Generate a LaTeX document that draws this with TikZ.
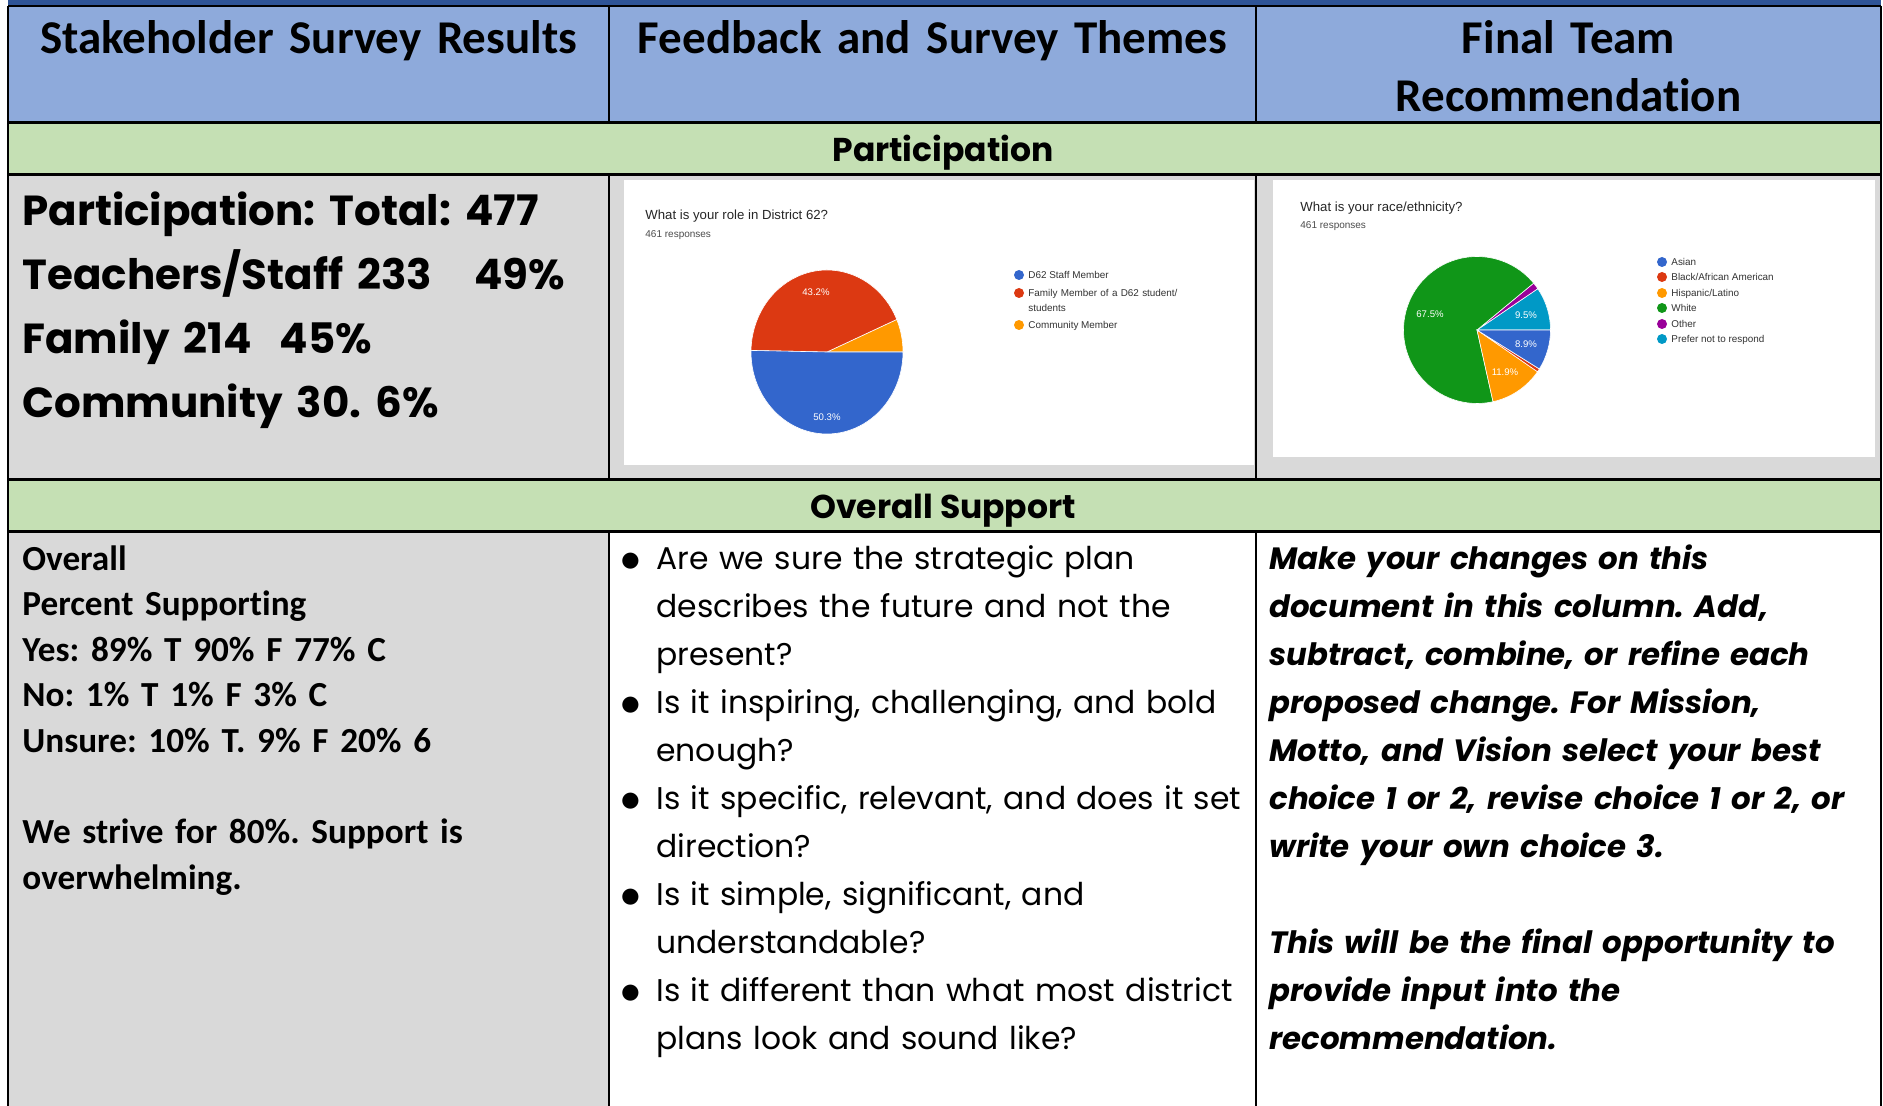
\documentclass[tikz,border=0pt]{standalone}
\usepackage{fontspec}
\setmainfont[Ligatures=NoCommon]{Carlito}
\newfontfamily\pop{Poppins}
\newfontfamily\gchart{Liberation Sans}
\definecolor{topblue}{HTML}{2F5496}
\definecolor{hdrblue}{HTML}{8EAADB}
\definecolor{bandgreen}{HTML}{C5E0B4}
\definecolor{cellgray}{HTML}{D9D9D9}
\definecolor{gblue}{HTML}{3366CC}
\definecolor{gred}{HTML}{DC3912}
\definecolor{gorange}{HTML}{FF9900}
\definecolor{ggreen}{HTML}{109618}
\definecolor{gpurple}{HTML}{990099}
\definecolor{gcyan}{HTML}{0099C6}
\newcommand{\themebul}{\makebox[16.5pt][l]{\hspace*{-1.5pt}\raisebox{-1.2pt}{\fontsize{22}{24}\selectfont$\bullet$}}}
\newcommand{\themeind}{\hspace*{16.5pt}}
\frenchspacing

\begin{document}
\begin{tikzpicture}[x=0.5pt,y=-0.5pt,
		gridline/.style={line width=1pt},
		bandline/.style={line width=1.5pt},
		headtext/.style={anchor=base,inner sep=0pt,text width=295pt,align=center,font=\fontsize{23.5}{29}\selectfont\bfseries},
		bandtext/.style={anchor=base,inner sep=0pt,font=\pop\fontsize{16.5}{20}\selectfont\bfseries},
		celltext/.style={anchor=base west,inner sep=0pt,text width=290pt,align=left},
		charttitle/.style={anchor=base west,inner sep=0pt,text=black!85,font=\gchart\fontsize{6.6}{8}\selectfont},
		chartnote/.style={anchor=base west,inner sep=0pt,text=black!70,font=\gchart\fontsize{5}{6}\selectfont},
		legendtext/.style={anchor=base west,inner sep=0pt,text=black!80,font=\gchart\fontsize{4.95}{7.5}\selectfont},
		slicelabel/.style={inner sep=0pt,text=white,font=\gchart\fontsize{4.8}{6}\selectfont},
		slice/.style={draw=white,line width=0.3pt}]
	\useasboundingbox (0,0) rectangle (1883,1106);
	% cells
	\fill[topblue] (8,0) rectangle (1881,6);
	\fill[hdrblue] (8,6) rectangle (1881,123);
	\fill[bandgreen] (8,123) rectangle (1881,175);
	\fill[cellgray] (8,175) rectangle (1881,480);
	\fill[bandgreen] (8,480) rectangle (1881,531);
	\fill[cellgray] (8,531) rectangle (609,1106);
	\fill[white] (609,531) rectangle (1881,1106);
	\fill[white] (624,180) rectangle (1254,465);
	\fill[white] (1273,180) rectangle (1875,457);
	\draw[gridline]
		(8,6) -- (1881,6)
		(8,6) -- (8,1106) (1881,6) -- (1881,1106)
		(609,6) -- (609,123) (1256,6) -- (1256,123)
		(609,175) -- (609,480) (1256,175) -- (1256,480)
		(609,531) -- (609,1106) (1256,531) -- (1256,1106);
	\draw[bandline]
		(8,123) -- (1881,123) (8,175) -- (1881,175)
		(8,480) -- (1881,480) (8,531) -- (1881,531);
	% headings
	\node[headtext] (hstake) at (308.5,54) {Stakeholder Survey Results};
	\node[headtext] (hthemes) at (932.5,54) {Feedback and Survey Themes};
	\node[headtext] (hfinal) at (1568.5,54) {Final Team\\Recommendation};
	\node[bandtext] (bpart) at (943,162) {Participation};
	\node[bandtext] (bsupp) at (943,518) {Overall Support};
	% participation
	\node[celltext,font=\pop\fontsize{21}{32}\selectfont\bfseries] (parttext) at (22,226)
		{Participation: Total: 477\\Teachers/Staff 233\ \ \ 49\%\\Family 214\ \ 45\%\\Community 30. 6\%};
	% role chart
	\node[charttitle] (roletitle) at (645,220) {What is your role in District 62?};
	\node[chartnote] (roleresp) at (645,238) {461 responses};
	\begin{scope}[shift={(827,352)},x=0.5pt,y=0.5pt]
		\fill[gorange,slice] (0,0) -- (0:76 and 82) arc[start angle=0,end angle=23.4,x radius=76,y radius=82] -- cycle;
		\fill[gred,slice] (0,0) -- (23.4:76 and 82) arc[start angle=23.4,end angle=178.9,x radius=76,y radius=82] -- cycle;
		\fill[gblue,slice] (0,0) -- (178.9:76 and 82) arc[start angle=178.9,end angle=360,x radius=76,y radius=82] -- cycle;
	\end{scope}
	\node[slicelabel] (rolefam) at (816,292) {43.2\%};
	\node[slicelabel] (rolestaff) at (827,417) {50.3\%};
	\fill[gblue] (1019,275) circle[radius=5];
	\node[legendtext] (legstaff) at (1028,279) {D62 Staff Member};
	\fill[gred] (1019,293) circle[radius=5];
	\node[legendtext,text width=100pt,align=left] (legfam) at (1028,297) {Family Member of a D62 student/\\students};
	\fill[gorange] (1019,325) circle[radius=5];
	\node[legendtext] (legcomm) at (1028,329) {Community Member};
	% race chart
	\node[charttitle] (racetitle) at (1300,212) {What is your race/ethnicity?};
	\node[chartnote] (raceresp) at (1300,229) {461 responses};
	\begin{scope}[shift={(1477,330)},x=0.5pt,y=0.5pt]
		\fill[gcyan,slice] (0,0) -- (0:73.5) arc[start angle=0,end angle=34.2,radius=73.5] -- cycle;
		\fill[gpurple,slice] (0,0) -- (34.2:73.5) arc[start angle=34.2,end angle=39.6,radius=73.5] -- cycle;
		\fill[ggreen,slice] (0,0) -- (39.6:73.5) arc[start angle=39.6,end angle=282.6,radius=73.5] -- cycle;
		\fill[gorange,slice] (0,0) -- (282.6:73.5) arc[start angle=282.6,end angle=325.4,radius=73.5] -- cycle;
		\fill[gred,slice] (0,0) -- (325.4:73.5) arc[start angle=325.4,end angle=328,radius=73.5] -- cycle;
		\fill[gblue,slice] (0,0) -- (328:73.5) arc[start angle=328,end angle=360,radius=73.5] -- cycle;
	\end{scope}
	\node[slicelabel] (racewhite) at (1430,314) {67.5\%};
	\node[slicelabel] (raceprefer) at (1526,315) {9.5\%};
	\node[slicelabel] (raceasian) at (1526,344) {8.9\%};
	\node[slicelabel] (racehisp) at (1505,372) {11.9\%};
	\fill[gblue] (1662,262) circle[radius=5];
	\node[legendtext] (legasian) at (1671,265.5) {Asian};
	\fill[gred] (1662,277) circle[radius=5];
	\node[legendtext] (legblack) at (1671,280.5) {Black/African American};
	\fill[gorange] (1662,293) circle[radius=5];
	\node[legendtext] (leghisp) at (1671,296.5) {Hispanic/Latino};
	\fill[ggreen] (1662,308) circle[radius=5];
	\node[legendtext] (legwhite) at (1671,311.5) {White};
	\fill[gpurple] (1662,324) circle[radius=5];
	\node[legendtext] (legother) at (1671,327.5) {Other};
	\fill[gcyan] (1662,339) circle[radius=5];
	\node[legendtext] (legprefer) at (1671,342.5) {Prefer not to respond};
	% overall support
	\node[celltext,font=\fontsize{17.6}{22.8}\selectfont\bfseries] (supptext) at (22,570)
		{Overall\\Percent Supporting\\Yes: 89\% T 90\% F 77\% C\\No: 1\% T 1\% F 3\% C\\Unsure: 10\% T. 9\% F 20\% 6\\[22.8pt]We strive for 80\%. Support is\\overwhelming.};
	\node[celltext,text width=340pt,font=\pop\fontsize{15.7}{24}\selectfont] (themetext) at (623,569)
		{\themebul Are we sure the strategic plan\\
		\themeind describes the future and not the\\
		\themeind present?\\
		\themebul Is it inspiring, challenging, and bold\\
		\themeind enough?\\
		\themebul Is it specific, relevant, and does it set\\
		\themeind direction?\\
		\themebul Is it simple, significant, and\\
		\themeind understandable?\\
		\themebul Is it different than what most district\\
		\themeind plans look and sound like?};
	\node[celltext,text width=330pt,font=\pop\fontsize{15.4}{24}\selectfont\bfseries\itshape] (finaltext) at (1269,569)
		{Make your changes on this\\document in this column. Add,\\subtract, combine, or refine each\\proposed change. For Mission,\\Motto, and Vision select your best\\choice 1 or 2, revise choice 1 or 2, or\\write your own choice 3.\\[24pt]This will be the final opportunity to\\provide input into the\\recommendation.};
\end{tikzpicture}
\end{document}
